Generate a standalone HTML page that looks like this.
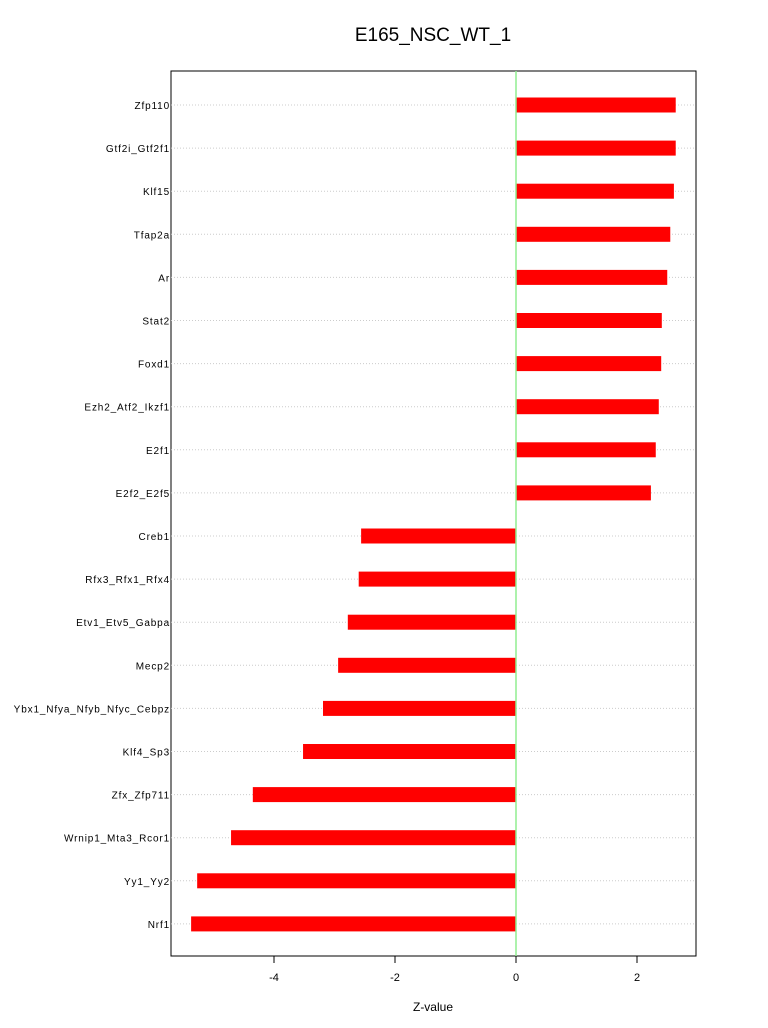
<!DOCTYPE html>
<html><head><meta charset="utf-8"><style>
body{margin:0;background:#fff;}
svg{display:block;font-family:"Liberation Sans",sans-serif;}
</style></head><body>
<svg id="chart" width="768" height="1028">
<text x="433" y="41" text-anchor="middle" font-size="19">E165_NSC_WT_1</text>
<rect x="171" y="71" width="525" height="885" fill="none" stroke="#000"/>
<text x="433" y="1011" text-anchor="middle" font-size="12">Z-value</text>
<g id="grid"></g><g id="bars"></g><g id="axis"></g>
</svg>
<script>
const categories=["Zfp110","Gtf2i_Gtf2f1","Klf15","Tfap2a","Ar","Stat2","Foxd1","Ezh2_Atf2_Ikzf1","E2f1","E2f2_E2f5","Creb1","Rfx3_Rfx1_Rfx4","Etv1_Etv5_Gabpa","Mecp2","Ybx1_Nfya_Nfyb_Nfyc_Cebpz","Klf4_Sp3","Zfx_Zfp711","Wrnip1_Mta3_Rcor1","Yy1_Yy2","Nrf1"];
const values=[2.64,2.64,2.61,2.55,2.50,2.41,2.40,2.36,2.31,2.23,-2.56,-2.60,-2.78,-2.94,-3.19,-3.52,-4.35,-4.71,-5.27,-5.37];
const ticks=[-4,-2,0,2];
const NS="http://www.w3.org/2000/svg";
const xs=v=>516+v*60.5;
const ys=i=>105+i*43.1;
function mk(t,a,p){const e=document.createElementNS(NS,t);for(const k in a)e.setAttribute(k,a[k]);document.getElementById(p).appendChild(e);return e;}
categories.forEach((c,i)=>{
 const g=mk("line",{x1:171,x2:696,y1:ys(i),y2:ys(i),stroke:"#ccc","stroke-dasharray":"1,2"},"grid");
 
 
 const v=values[i];
 const b=mk("rect",{x:Math.min(xs(0),xs(v)),y:ys(i)-7.5,width:Math.abs(xs(v)-xs(0)),height:15,fill:"#ff0000"},"bars");
 
 
 const t=mk("text",{x:170,y:ys(i)+4,"text-anchor":"end","font-size":"10","letter-spacing":"0.85"},"axis");
 t.textContent=c;
 
 
});
const z=mk("line",{x1:xs(0),x2:xs(0),y1:71,y2:956,stroke:"#90ee90","stroke-width":1.5},"bars");


ticks.forEach(v=>{
 const l=mk("line",{x1:xs(v),x2:xs(v),y1:956,y2:963,stroke:"#000"},"axis");
 
 
 const t=mk("text",{x:xs(v),y:981,"text-anchor":"middle","font-size":"11"},"axis");
 t.textContent=v;
 
 
});
</script>
</body></html>
